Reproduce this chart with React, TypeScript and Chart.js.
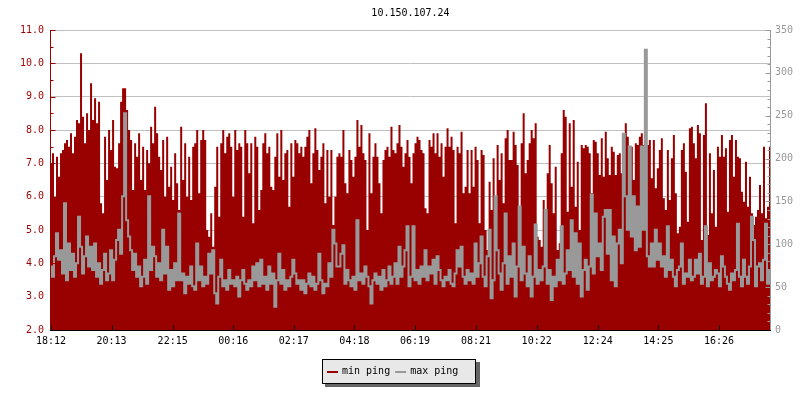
import React, { useEffect, useRef } from "react";
import { Chart, registerables } from "chart.js";

Chart.register(...registerables);

const chartTitle = "10.150.107.24";
const startTime = "18:12";
const stepMinutes = 4;
const timeTickLabels = ["18:12", "20:13", "22:15", "00:16", "02:17", "04:18", "06:19", "08:21", "10:22", "12:24", "14:25", "16:26"];
const seriesNames = ["min ping", "max ping"];

// min ping (left axis, ms)
const minPing = [
  7.0, 7.3, 6.0, 7.2, 6.6, 7.3, 7.4, 7.6, 7.7, 7.5, 7.9, 7.3,
  7.8, 8.3, 8.2, 10.3, 8.4, 7.6, 8.5, 8.0, 9.4, 8.3, 8.95, 8.2,
  8.85, 5.8, 5.5, 7.8, 6.5, 8.0, 7.4, 8.3, 6.9, 6.85, 7.6, 8.85,
  9.25, 9.25, 8.6, 8.0, 7.7, 6.2, 7.6, 7.2, 7.9, 6.5, 7.5, 6.2,
  7.4, 7.0, 8.1, 7.6, 8.7, 7.9, 7.2, 6.8, 7.7, 6.0, 7.8, 6.3,
  6.9, 5.9, 7.3, 6.4, 5.6, 8.1, 6.5, 7.6, 6.0, 7.2, 5.9, 7.5,
  7.6, 8.0, 6.1, 7.7, 8.0, 7.7, 5.0, 4.8, 5.5, 4.5, 6.3, 7.5,
  5.4, 7.6, 8.0, 7.3, 7.8, 7.9, 7.5, 6.0, 8.0, 7.4, 7.6, 7.5,
  5.4, 8.0, 7.6, 6.7, 7.6, 5.2, 7.8, 7.5, 5.6, 6.2, 7.6, 7.9,
  7.3, 7.5, 6.3, 6.2, 7.2, 7.9, 6.6, 8.0, 6.5, 7.3, 7.4, 5.7,
  7.6, 6.6, 7.7, 7.6, 7.3, 7.5, 7.2, 7.5, 7.8, 8.0, 6.4, 7.3,
  8.05, 7.4, 6.8, 7.2, 7.6, 5.8, 7.4, 6.0, 7.4, 5.15, 6.0, 7.2,
  7.3, 7.2, 8.0, 6.4, 6.1, 7.4, 7.1, 6.6, 7.2, 8.3, 7.5, 8.15,
  7.3, 7.1, 5.0, 7.9, 6.1, 7.2, 7.6, 7.2, 6.4, 5.5, 7.1, 7.4,
  7.5, 7.2, 8.1, 7.4, 7.3, 7.6, 8.15, 7.5, 6.9, 7.3, 7.7, 7.2,
  6.4, 7.3, 7.6, 7.8, 7.7, 7.4, 7.3, 5.65, 5.5, 7.7, 7.5, 7.9,
  7.3, 7.9, 7.2, 7.6, 6.6, 7.5, 8.05, 7.5, 7.8, 7.4, 5.2, 7.5,
  7.3, 7.95, 6.1, 6.3, 7.4, 6.1, 7.4, 6.3, 7.5, 7.1, 5.2, 7.4,
  7.25, 5.0, 4.4, 6.45, 5.6, 7.15, 5.9, 7.55, 6.5, 7.3, 5.8, 7.75,
  8.0, 7.1, 7.1, 7.95, 7.55, 6.95, 5.3, 7.6, 8.5, 6.7, 7.1, 7.6,
  8.0, 7.75, 8.2, 4.8, 4.7, 4.5, 5.9, 4.3, 6.7, 7.55, 6.4, 5.5,
  6.9, 4.4, 4.6, 7.3, 8.6, 8.4, 5.55, 8.2, 6.3, 8.3, 5.7, 7.05,
  5.0, 7.55, 7.45, 7.55, 7.5, 7.3, 6.1, 7.7, 7.65, 7.3, 6.65, 7.75,
  6.6, 7.95, 7.15, 6.65, 7.5, 7.35, 6.65, 7.25, 7.3, 6.7, 7.4, 8.2,
  7.8, 7.15, 7.5, 6.5, 7.6, 7.55, 7.8, 7.9, 7.55, 7.75, 7.55, 7.7,
  6.55, 7.7, 6.25, 6.85, 7.4, 7.75, 5.95, 5.6, 7.4, 5.9, 7.15, 7.85,
  6.1, 4.9, 5.1, 7.4, 7.6, 6.75, 5.25, 8.05, 8.1, 7.6, 7.15, 8.15,
  7.9, 4.7, 7.85, 8.8, 4.85, 7.3, 5.5, 6.8, 5.1, 7.5, 7.2, 7.85,
  7.2, 7.45, 5.55, 7.7, 7.85, 6.6, 7.7, 7.2, 7.15, 6.15, 5.85, 7.05,
  5.7, 6.6, 5.5, 5.15, 5.4, 5.6, 6.35, 5.5, 7.5, 5.35, 5.7, 7.5,
];

// max ping (right axis, ms)
const maxPing = [
  74, 62, 86, 113, 82, 93, 66, 148, 58, 101, 70, 89,
  62, 78, 132, 97, 66, 86, 109, 74, 97, 70, 101, 62,
  78, 54, 70, 89, 58, 66, 93, 58, 82, 105, 117, 89,
  156, 253, 128, 109, 93, 70, 89, 62, 74, 51, 62, 82,
  54, 156, 70, 97, 86, 62, 78, 58, 117, 66, 97, 47,
  70, 51, 78, 58, 136, 58, 66, 43, 62, 54, 74, 51,
  47, 101, 58, 74, 51, 62, 54, 89, 66, 93, 43, 31,
  62, 82, 51, 58, 47, 70, 54, 58, 51, 62, 39, 58,
  70, 54, 47, 58, 51, 74, 58, 78, 51, 82, 54, 62,
  47, 74, 54, 66, 27, 58, 89, 54, 70, 47, 58, 51,
  62, 82, 66, 54, 58, 47, 58, 43, 54, 66, 51, 62,
  47, 54, 89, 58, 43, 54, 51, 78, 62, 117, 101, 74,
  74, 89, 99, 54, 70, 58, 51, 62, 47, 128, 58, 66,
  54, 74, 62, 51, 31, 58, 66, 54, 62, 47, 70, 51,
  58, 74, 54, 62, 78, 54, 97, 62, 74, 93, 121, 51,
  62, 121, 58, 70, 54, 74, 62, 93, 58, 74, 66, 82,
  54, 86, 70, 58, 51, 62, 58, 70, 54, 51, 66, 93,
  74, 97, 62, 54, 70, 58, 66, 54, 101, 62, 78, 109,
  62, 51, 86, 117, 37, 58, 156, 93, 66, 47, 78, 136,
  54, 86, 62, 101, 39, 74, 144, 58, 97, 66, 51, 86,
  39, 62, 123, 54, 70, 58, 74, 140, 54, 70, 35, 62,
  51, 82, 58, 121, 54, 66, 93, 70, 128, 62, 113, 54,
  101, 39, 70, 82, 47, 74, 158, 66, 136, 86, 101, 70,
  132, 140, 89, 140, 58, 109, 51, 101, 117, 78, 229, 156,
  117, 214, 109, 156, 93, 144, 97, 214, 117, 327, 86, 74,
  101, 74, 117, 82, 101, 74, 86, 62, 121, 70, 82, 62,
  51, 70, 74, 101, 54, 66, 62, 82, 58, 62, 82, 66,
  89, 54, 62, 121, 51, 78, 58, 62, 70, 66, 51, 86,
  74, 62, 54, 47, 66, 58, 70, 124, 62, 51, 82, 62,
  54, 74, 132, 105, 51, 74, 78, 58, 82, 124, 54, 70,
];

const RED = "#990000";
const GRAY = "#999999";
const FONT = "'DejaVu Sans Mono', monospace";

function minutesOf(t: string) {
  const [h, m] = t.split(":").map(Number);
  return h * 60 + m;
}
const tickIndex = timeTickLabels.map(
  (t) => ((minutesOf(t) - minutesOf(startTime) + 1440) % 1440) / stepMinutes
);

const framePlugin = {
  id: "frame",
  afterDatasetsDraw(chart: any) {
    const { ctx, chartArea: a, scales } = chart;
    const yl = scales.y;
    const yr = scales.y1;
    const xs = scales.x;
    ctx.save();
    ctx.lineWidth = 1;
    // left axis
    const lx = a.left - 0.5;
    ctx.strokeStyle = RED;
    ctx.beginPath();
    ctx.moveTo(lx, a.top);
    ctx.lineTo(lx, a.bottom + 1);
    for (let v = 2; v <= 11.0001; v += 0.5) {
      const py = Math.round(yl.getPixelForValue(v)) + 0.5;
      const major = Math.abs(v - Math.round(v)) < 1e-6;
      ctx.moveTo(lx, py);
      ctx.lineTo(lx + (major ? 5 : 3), py);
    }
    ctx.stroke();
    // right axis
    const rx = a.right + 0.5;
    ctx.strokeStyle = GRAY;
    ctx.beginPath();
    ctx.moveTo(rx, a.top);
    ctx.lineTo(rx, a.bottom + 1);
    for (let v = 0; v <= 350; v += 10) {
      const py = Math.round(yr.getPixelForValue(v)) + 0.5;
      ctx.moveTo(rx, py);
      ctx.lineTo(rx - (v % 50 === 0 ? 5 : 3), py);
    }
    ctx.stroke();
    // bottom axis
    const by = a.bottom + 0.5;
    ctx.strokeStyle = "#000000";
    ctx.beginPath();
    ctx.moveTo(a.left - 1, by);
    ctx.lineTo(a.right + 1, by);
    tickIndex.forEach((t) => {
      const px = Math.round(xs.getPixelForValue(t)) + 0.5;
      ctx.moveTo(px, by);
      ctx.lineTo(px, by - 5);
    });
    ctx.stroke();
    ctx.restore();
  },
  afterDraw(chart: any) {
    const { ctx, chartArea: a } = chart;
    ctx.save();
    ctx.font = `10px ${FONT}`;
    ctx.textBaseline = "middle";
    // title
    ctx.fillStyle = "#000000";
    ctx.textAlign = "center";
    ctx.fillText(chartTitle, (a.left + a.right) / 2, 13);
    // legend
    const bw = 154;
    const bh = 24;
    const bx = Math.round(chart.width / 2) - 78;
    const byy = a.bottom + 29;
    ctx.fillStyle = "#666666";
    ctx.fillRect(bx + 3, byy + 3, bw + 1, bh + 1);
    ctx.fillStyle = "#e8e8e8";
    ctx.fillRect(bx, byy, bw, bh);
    ctx.strokeStyle = "#000000";
    ctx.lineWidth = 1;
    ctx.strokeRect(bx + 0.5, byy + 0.5, bw - 1, bh);
    const colors = [RED, GRAY];
    let cx = bx + 5;
    const cy = byy + 13;
    ctx.textAlign = "left";
    seriesNames.forEach((name, i) => {
      ctx.strokeStyle = colors[i];
      ctx.lineWidth = 2;
      ctx.beginPath();
      ctx.moveTo(cx, cy);
      ctx.lineTo(cx + 11, cy);
      ctx.stroke();
      ctx.fillStyle = "#000000";
      ctx.fillText(name, cx + 15, cy - 0.5);
      cx += 15 + ctx.measureText(name).width + 5;
    });
    ctx.restore();
  },
};

export default function App() {
  const ref = useRef<HTMLCanvasElement>(null);
  useEffect(() => {
    if (!ref.current) return;
    Chart.defaults.font.family = FONT;
    Chart.defaults.font.size = 10;
    const chart = new Chart(ref.current, {
      type: "line",
      data: {
        datasets: [
          {
            label: seriesNames[1],
            data: maxPing.map((v, i) => ({ x: i, y: v })),
            yAxisID: "y1",
            borderColor: GRAY,
            borderWidth: 2,
            pointRadius: 0,
            stepped: "middle",
            fill: false,
            order: 1,
          },
          {
            label: seriesNames[0],
            data: minPing.map((v, i) => ({ x: i, y: v })),
            yAxisID: "y",
            borderColor: RED,
            backgroundColor: RED,
            borderWidth: 0,
            pointRadius: 0,
            stepped: "middle",
            fill: "start",
            order: 2,
          },
        ],
      },
      options: {
        responsive: false,
        animation: false,
        devicePixelRatio: 1,
        events: [],
        layout: { padding: { top: 30, left: 0, right: 0, bottom: 0 } },
        plugins: { legend: { display: false }, tooltip: { enabled: false }, title: { display: false } },
        scales: {
          x: {
            type: "linear",
            min: 0,
            max: minPing.length - 1,
            grid: { display: false, drawTicks: false },
            border: { display: false },
            afterBuildTicks: (s: any) => {
              s.ticks = tickIndex.map((v) => ({ value: v }));
            },
            afterFit: (s: any) => {
              s.height = 70;
            },
            ticks: {
              autoSkip: false,
              maxRotation: 0,
              padding: 5,
              color: "#000000",
              callback: (_v: any, i: number) => timeTickLabels[i],
            },
          },
          y: {
            position: "left",
            min: 2,
            max: 11,
            grid: { color: "#c0c0c0", lineWidth: 1, drawTicks: false },
            border: { display: false },
            afterFit: (s: any) => {
              s.width = 51;
            },
            ticks: {
              stepSize: 1,
              padding: 7,
              color: RED,
              callback: (v: any) => Number(v).toFixed(1),
            },
          },
          y1: {
            position: "right",
            min: 0,
            max: 350,
            grid: { display: false, drawTicks: false },
            border: { display: false },
            afterFit: (s: any) => {
              s.width = 30;
            },
            ticks: { stepSize: 50, padding: 5, color: GRAY },
          },
        },
      },
      plugins: [framePlugin],
    } as any);
    return () => chart.destroy();
  }, []);
  return (
    <div style={{ position: "absolute", left: 0, top: 0, width: 800, height: 400, background: "#ffffff" }}>
      <canvas ref={ref} width={800} height={400} style={{ display: "block", width: 800, height: 400 }} />
    </div>
  );
}
